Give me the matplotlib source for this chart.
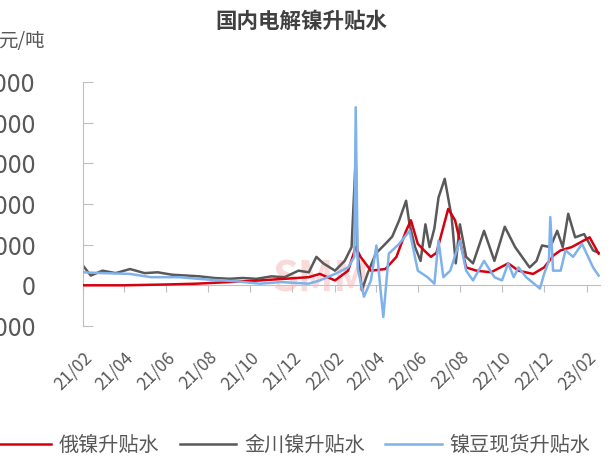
import matplotlib
matplotlib.use("Agg")
import matplotlib.pyplot as plt
import matplotlib.dates as mdates
import pandas as pd

plt.rcParams['font.family'] = ['Noto Sans CJK SC', 'DejaVu Sans']

gray_dates = ["2021-02-01","2021-02-12","2021-03-01","2021-03-20","2021-04-10","2021-05-01","2021-05-20","2021-06-10","2021-07-01","2021-07-20","2021-08-10","2021-09-01","2021-09-20","2021-10-10","2021-11-01","2021-11-20","2021-12-10","2021-12-25",
 "2022-01-05","2022-01-15","2022-02-01","2022-02-15","2022-02-25","2022-03-03","2022-03-05","2022-03-12","2022-03-20","2022-04-01","2022-04-15","2022-04-25","2022-05-05","2022-05-15","2022-05-20","2022-05-28","2022-06-05","2022-06-12","2022-06-18","2022-06-25","2022-07-01","2022-07-10","2022-07-20","2022-07-26","2022-08-01","2022-08-10","2022-08-20","2022-09-05","2022-09-20","2022-10-05","2022-10-20","2022-11-10","2022-11-20","2022-11-28","2022-12-10","2022-12-20","2022-12-28","2023-01-05","2023-01-15","2023-01-28","2023-02-10","2023-02-18"]
gray_vals = [2400,1200,1800,1500,2000,1500,1600,1300,1200,1100,900,800,900,800,1100,1000,1800,1600,
 3500,2700,1800,3000,4700,15700,4500,-600,1400,3900,5100,6000,8000,10400,7500,4700,3000,7500,4700,7000,10800,13100,8400,2700,7500,3500,2700,6700,3000,7200,4700,2200,3000,4900,4700,6700,4700,8800,5900,6300,4300,4000]

red_dates = ["2021-02-01","2021-04-01","2021-06-01","2021-07-15","2021-09-01","2021-10-15","2021-11-20","2021-12-25",
 "2022-01-10","2022-02-01","2022-02-20","2022-03-03","2022-03-10","2022-03-25","2022-04-15","2022-05-01","2022-05-15","2022-05-22","2022-06-01","2022-06-10","2022-06-20","2022-06-28","2022-07-15","2022-07-25","2022-08-10","2022-08-25","2022-09-15","2022-10-10","2022-10-25","2022-11-15","2022-12-01","2022-12-15","2022-12-25","2023-01-10","2023-02-05","2023-02-18"]
red_vals = [0,0,100,200,400,600,800,1000,
 1400,600,1800,4700,3500,1800,2000,3500,6700,8000,5100,4300,3500,4000,9400,8000,2200,1800,1600,2700,1800,1400,2200,3700,4300,4700,5900,3900]

blue_dates = ["2021-02-01","2021-03-01","2021-04-10","2021-05-10","2021-06-20","2021-08-01","2021-09-10","2021-10-15","2021-11-15","2021-12-25",
 "2022-01-10","2022-02-01","2022-02-20","2022-03-01","2022-03-03","2022-03-06","2022-03-15","2022-03-25","2022-04-02","2022-04-08","2022-04-12","2022-04-20","2022-05-05","2022-05-20","2022-06-01","2022-06-15","2022-06-25","2022-07-01","2022-07-08","2022-07-18","2022-08-01","2022-08-10","2022-08-20","2022-09-05","2022-09-20","2022-10-01","2022-10-10","2022-10-18","2022-10-25","2022-11-05","2022-11-25","2022-12-01","2022-12-08","2022-12-10","2022-12-14","2022-12-25","2023-01-01","2023-01-12","2023-01-25","2023-02-10","2023-02-18"]
blue_vals = [1600,1500,1400,1000,1000,700,500,200,400,200,
 600,1400,2200,3500,21900,2000,-1400,600,4900,-600,-3900,3900,5100,6700,1800,1000,200,5500,1000,1800,5500,1800,600,3000,1000,600,2700,1000,2200,1000,-400,1400,3000,8400,1800,1800,4300,3500,5100,2200,1200]

fig = plt.figure(figsize=(6.16, 4.69), dpi=100)
ax = fig.add_axes([0.135, 0.305, 0.839, 0.52])
ax.plot(pd.to_datetime(red_dates), red_vals, color='#d7000f', lw=1.8, label='俄镍升贴水', zorder=3)
ax.plot(pd.to_datetime(gray_dates), gray_vals, color='#595959', lw=1.8, label='金川镍升贴水', zorder=2)
ax.plot(pd.to_datetime(blue_dates), blue_vals, color='#7fb2ea', lw=1.8, label='镍豆现货升贴水', zorder=4)

ax.set_ylim(-5000, 25000)
ax.set_yticks(range(-5000, 25001, 5000))
ax.set_xlim(pd.Timestamp("2021-02-01"), pd.Timestamp("2023-02-20"))
ticks = pd.date_range("2021-02-01", "2023-02-01", freq="2MS")
ax.set_xticks(ticks)
ax.xaxis.set_major_formatter(mdates.DateFormatter('%y/%m'))
for s in ['top', 'right', 'bottom']:
    ax.spines[s].set_visible(False)
ax.spines['left'].set_color('#bfbfbf')
ax.tick_params(axis='y', direction='in', length=7, color='#bfbfbf', pad=34, labelsize=18, labelcolor='#595959')
ax.tick_params(axis='x', length=0, pad=16, labelsize=12.5, labelcolor='#595959')
for lab in ax.get_xticklabels():
    lab.set_rotation(45); lab.set_ha('right'); lab.set_va('top'); lab.set_rotation_mode('anchor')
sec = ax.secondary_xaxis(1/6)
sec.set_xticks(ticks)
sec.tick_params(axis='x', direction='out', length=5, color='#bfbfbf', labelbottom=False, labeltop=False)
sec.spines['bottom'].set_color('#bfbfbf')
sec.spines['top'].set_color('#bfbfbf')

ax.text(0.46, 0.14, 'SMM', transform=ax.transAxes, fontsize=30, fontweight='bold', color='#f4b4b4', alpha=0.5, ha='center', zorder=1)
fig.text(0.49, 0.955, '国内电解镍升贴水', ha='center', va='center', fontsize=15.5, fontweight='bold', color='#404040')
fig.text(0.035, 0.912, '元/吨', ha='center', va='center', fontsize=14, color='#595959')
fig.legend(loc='center', bbox_to_anchor=(0.475, 0.05), ncol=3, frameon=False, fontsize=14.5,
           handlelength=2.8, columnspacing=1.0, handletextpad=0.4, labelcolor='#595959')
fig.savefig('out.png', dpi=100)
